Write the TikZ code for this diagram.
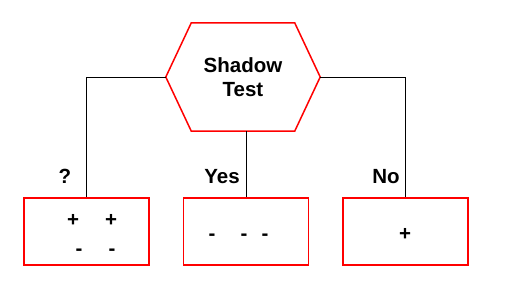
\documentclass[tikz,border=0pt]{standalone}
\usepackage{fontspec}
\setmainfont{Liberation Sans}
\usetikzlibrary{positioning}

\begin{document}
\begin{tikzpicture}[x=1pt,y=-1pt,node distance=159.5pt,on grid,
    big/.style={font=\bfseries\fontsize{20.5}{24}\selectfont},
    test/.style={big, minimum width=154pt, minimum height=108pt, align=center},
    hex/.style={draw=red, line width=1.5pt},
    leaf/.style={draw=red, line width=1.5pt, minimum width=125pt, minimum height=67pt}]
    \useasboundingbox (0,0) rectangle (506,293);

    \node[test] (T) at (243,77) {Shadow\\Test};
    \draw[hex] ([xshift=25.5pt]T.north west) -- ([xshift=-25.5pt]T.north east)
        -- (T.east) -- ([xshift=-25.5pt]T.south east)
        -- ([xshift=25.5pt]T.south west) -- (T.west) -- cycle;
    \node[leaf] (L) at (86.5,231.5) {};
    \node[leaf] (M) [right=of L] {};
    \node[leaf] (R) [right=of M] {};

    % branches
    \draw (T.west) -| (L.north);
    \draw (M.north |- T.south) -- (M.north);
    \draw (T.east) -| (R.north);

    \node[big] (q) at (65,176) {?};
    \node[big] (yes) at (222,177) {Yes};
    \node[big] (no) at (386,177) {No};

    % examples in each leaf
    \node[big] (p1) at (73,220) {+};
    \node[big] (p2) at (111,220) {+};
    \node[big] (m1) at (79,252) {-};
    \node[big] (m2) at (112,252) {-};
    \node[big] (m3) at (212,237) {-};
    \node[big] (m4) at (244,237) {-};
    \node[big] (m5) at (265,237) {-};
    \node[big] (p3) at (405,234) {+};
\end{tikzpicture}
\end{document}
